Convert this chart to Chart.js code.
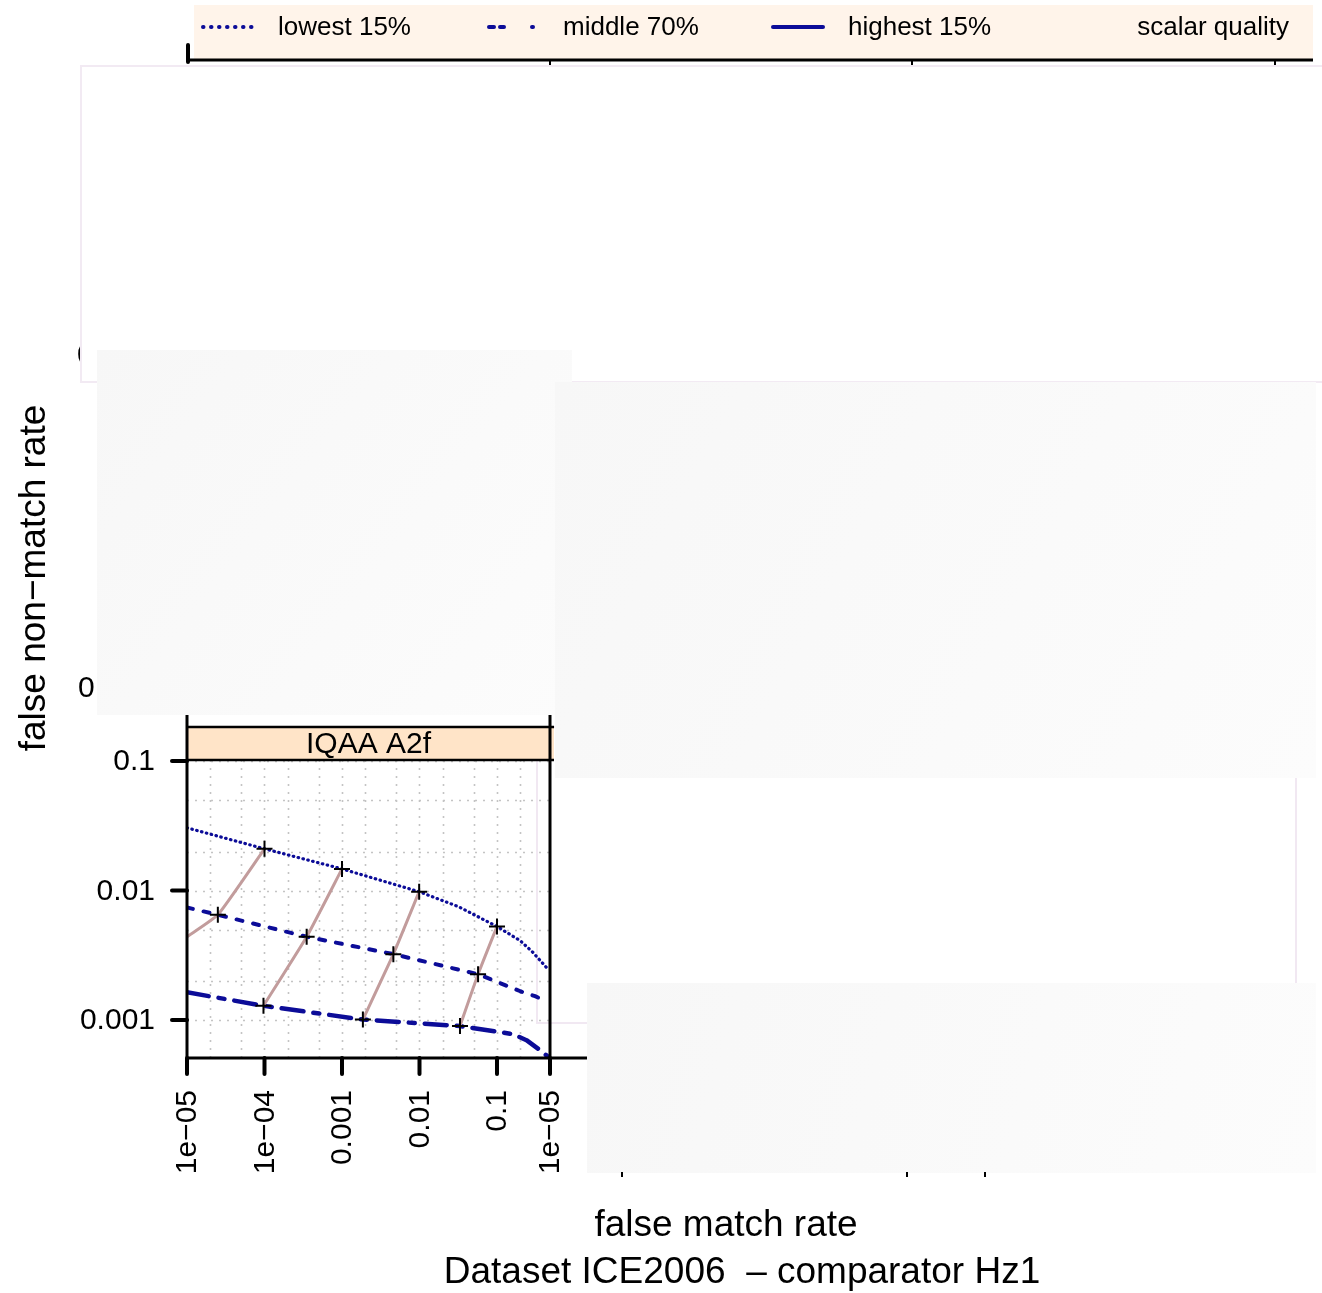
<!DOCTYPE html>
<html>
<head>
<meta charset="utf-8">
<title>IQAA A2f — ICE2006 / Hz1</title>
<script src="https://cdn.jsdelivr.net/npm/chart.js@4/dist/chart.umd.min.js"></script>
<style>
  html, body { margin: 0; padding: 0; background: #ffffff; }
  #wrap { position: relative; width: 1322px; height: 1293px; overflow: hidden; }
  canvas { position: absolute; left: 0; top: 0; }
</style>
</head>
<body>
<div id="wrap"><canvas id="c" width="1322" height="1293"></canvas></div>
<script>
// ---- axis ranges (false match rate / false non-match rate, log scales) ----
const X_MIN = 1e-5;
const X_MAX = 0.483;
const Y_MIN = 0.00051;
const Y_MAX = 0.1018;

// ---- DET curves per quality group ----
const lowestFMR  = [1e-5, 1e-4, 1e-3, 0.0099, 0.032, 0.1, 0.2, 0.29, 0.46];
const lowestFNMR = [0.0305, 0.021, 0.0147, 0.0098, 0.0075, 0.00528, 0.0041, 0.00334, 0.00245];

const middleFMR  = [1e-5, 2.5e-5, 3.5e-4, 4.6e-3, 0.057, 0.2, 0.31, 0.45];
const middleFNMR = [0.0074, 0.0065, 0.0044, 0.00323, 0.00226, 0.00167, 0.00153, 0.00138];

const highestFMR  = [1e-5, 9.7e-5, 1.86e-3, 0.0333, 0.16, 0.24, 0.34, 0.46];
const highestFNMR = [0.00164, 0.00129, 0.00101, 0.0009, 0.00078, 0.0007, 0.0006, 0.00052];

// ---- common-threshold connectors (highest -> middle -> lowest) ----
const thrAFMR  = [1e-5, 2.5e-5, 1e-4];
const thrAFNMR = [0.0044, 0.0065, 0.021];
const thrBFMR  = [9.7e-5, 3.5e-4, 1e-3];
const thrBFNMR = [0.00129, 0.0044, 0.0147];
const thrCFMR  = [1.86e-3, 4.6e-3, 0.0099];
const thrCFNMR = [0.00101, 0.00323, 0.0098];
const thrDFMR  = [0.0333, 0.057, 0.1];
const thrDFNMR = [0.0009, 0.00226, 0.00528];

// ---- tick labels ----
const xTickValues = [1e-5, 1e-4, 1e-3, 1e-2, 1e-1];
const xTickLabels = ['1e\u221205', '1e\u221204', '0.001', '0.01', '0.1'];
const xNextPanelLabel = '1e\u221205';
const yTickValues = [0.1, 0.01, 0.001];
const yTickLabels = ['0.1', '0.01', '0.001'];
const gridMultipliers = [1, 2, 5];

// ---- texts ----
const panelTitle = 'IQAA A2f';
const legendLabels = ['lowest 15%', 'middle 70%', 'highest 15%'];
const legendTitle = 'scalar quality';
const xTitle = 'false match rate';
const yTitle = 'false non\u2212match rate';
const mainTitle = 'Dataset ICE2006  \u2013 comparator Hz1';

const BLUE = '#0c0c98';
const ROSY = '#c29c9c';
const FONT = '"Liberation Sans", Arial, Helvetica, sans-serif';

const DASH_LOW = [0.5, 4.5];
const DASH_MID = [6, 11];
const DASH_HIGH = [22, 10, 6, 10];

function pts(xs, ys) { return xs.map((x, i) => ({ x: x, y: ys[i] })); }

function connector(xs, ys, firstHasMark) {
  return {
    data: pts(xs, ys),
    showLine: true,
    borderColor: ROSY,
    borderWidth: 3,
    pointStyle: 'cross',
    pointRadius: xs.map((_, i) => (i === 0 && !firstHasMark) ? 0 : 8),
    pointBorderColor: '#000000',
    pointBorderWidth: 2,
    pointBackgroundColor: '#000000',
    clip: 0,
    tension: 0.15
  };
}

function curve(xs, ys, dash, width) {
  return {
    data: pts(xs, ys),
    showLine: true,
    borderColor: BLUE,
    borderWidth: width,
    borderDash: dash,
    borderCapStyle: 'round',
    borderJoinStyle: 'round',
    pointRadius: 0,
    clip: 0,
    tension: 0
  };
}

function logGrid(min, max) {
  const out = [];
  for (let e = -7; e <= 1; e++) {
    for (const m of gridMultipliers) {
      const v = m * Math.pow(10, e);
      if (v > min * 1.0001 && v < max * 0.9999) out.push(v);
    }
  }
  return out;
}

// dotted reference grid, plus the faint frame that sits behind the curves
const gridPlugin = {
  id: 'dotGrid',
  beforeDatasetsDraw(chart) {
    const { ctx, chartArea: a, scales: { x, y } } = chart;
    ctx.save();
    ctx.strokeStyle = '#c4c4c4';
    ctx.lineWidth = 1.6;
    ctx.setLineDash([2, 6]);
    for (const v of logGrid(X_MIN, X_MAX)) {
      const px = Math.round(x.getPixelForValue(v)) + 0.5;
      ctx.beginPath(); ctx.moveTo(px, a.top); ctx.lineTo(px, a.bottom); ctx.stroke();
    }
    for (const v of logGrid(Y_MIN, Y_MAX)) {
      const py = Math.round(y.getPixelForValue(v)) + 0.5;
      ctx.beginPath(); ctx.moveTo(a.left, py); ctx.lineTo(a.right, py); ctx.stroke();
    }
    ctx.setLineDash([]);
    ctx.strokeStyle = '#f1e8f2';
    ctx.lineWidth = 2;
    ctx.strokeRect(537, 727, 759, 296);
    ctx.restore();
  }
};

function line(ctx, x1, y1, x2, y2) {
  ctx.beginPath(); ctx.moveTo(x1, y1); ctx.lineTo(x2, y2); ctx.stroke();
}

function panelFill(ctx, x, y, w, h) {
  const g = ctx.createLinearGradient(x, y, x + w, y + h);
  g.addColorStop(0, '#f7f7f7');
  g.addColorStop(1, '#fcfcfc');
  ctx.fillStyle = g;
  ctx.fillRect(x, y, w, h);
}

// frame, strip, axes, labels, legend and titles
const decorPlugin = {
  id: 'latticeDecor',
  afterDraw(chart) {
    const { ctx, chartArea: a, scales: { x, y } } = chart;
    ctx.save();
    ctx.setLineDash([]);
    ctx.strokeStyle = '#000000';
    ctx.fillStyle = '#000000';

    // panel strip
    ctx.fillStyle = '#ffe4c8';
    ctx.fillRect(a.left, 727, a.right - a.left + 4, a.top - 727);
    ctx.lineWidth = 2.5;
    line(ctx, a.left, 727, a.right + 4, 727);
    line(ctx, a.left, a.top, a.right + 4, a.top);
    ctx.fillStyle = '#000000';
    ctx.font = '30px ' + FONT;
    ctx.textAlign = 'center';
    ctx.textBaseline = 'middle';
    ctx.fillText(panelTitle, (a.left + a.right) / 2, (727 + a.top) / 2 + 1);

    // panel borders
    ctx.lineWidth = 3;
    line(ctx, a.left, 713, a.left, a.bottom);
    line(ctx, a.right, 713, a.right, a.bottom);
    line(ctx, a.left, a.bottom, 587, a.bottom);

    // y ticks + labels
    ctx.lineCap = 'round';
    ctx.lineWidth = 4;
    ctx.font = '30px ' + FONT;
    ctx.textAlign = 'right';
    ctx.textBaseline = 'middle';
    yTickValues.forEach((v, i) => {
      const py = y.getPixelForValue(v);
      line(ctx, a.left - 15, py, a.left, py);
      ctx.fillText(yTickLabels[i], 155, py + 1);
    });

    // x ticks + rotated labels
    const xTicks = xTickValues.map((v, i) => ({ px: x.getPixelForValue(v), label: xTickLabels[i] }));
    xTicks.push({ px: a.right, label: xNextPanelLabel });
    xTicks.forEach(t => {
      line(ctx, t.px, a.bottom, t.px, a.bottom + 16);
      ctx.save();
      ctx.translate(t.px, 1090);
      ctx.rotate(-Math.PI / 2);
      ctx.textAlign = 'right';
      ctx.textBaseline = 'middle';
      ctx.fillText(t.label, 0, 1);
      ctx.restore();
    });
    ctx.lineCap = 'butt';

    // surrounding panels (empty, faded)
    ctx.strokeStyle = '#f2eaf3';
    ctx.lineWidth = 2;
    ctx.strokeRect(81, 66, 1250, 316);
    ctx.strokeStyle = '#f1e8f2';
    line(ctx, 1296, 778, 1296, 984);

    ctx.fillStyle = '#000000';
    ctx.font = '30px ' + FONT;
    ctx.textAlign = 'left';
    ctx.textBaseline = 'middle';
    ctx.fillText('0', 78, 689);
    ctx.save();
    ctx.beginPath(); ctx.rect(70, 330, 10, 50); ctx.clip();
    ctx.fillText('0', 77, 356);
    ctx.restore();

    panelFill(ctx, 97, 350, 475, 365);
    panelFill(ctx, 555, 382, 761, 396);
    panelFill(ctx, 587, 983, 729, 190);

    // stray ticks of neighbouring axes
    ctx.strokeStyle = '#000000';
    ctx.lineWidth = 2;
    [622, 907, 985].forEach(px => line(ctx, px, 1172, px, 1177));

    // top key
    ctx.fillStyle = '#fff4ea';
    ctx.fillRect(194, 5, 1119, 54);
    ctx.strokeStyle = '#000000';
    ctx.lineWidth = 3;
    line(ctx, 187, 60, 1313, 60);
    ctx.lineWidth = 4;
    ctx.lineCap = 'round';
    line(ctx, 188, 45, 188, 62);
    ctx.lineCap = 'butt';
    ctx.lineWidth = 2;
    [550, 912, 1275].forEach(px => line(ctx, px, 60, px, 65));

    const keyY = 27;
    ctx.strokeStyle = BLUE;
    ctx.lineCap = 'round';
    ctx.lineWidth = 4;
    ctx.setLineDash([0.5, 7.5]);
    line(ctx, 203, keyY, 255, keyY);
    ctx.setLineDash([5, 6, 4, 28, 1, 30]);
    line(ctx, 489, keyY, 540, keyY);
    ctx.setLineDash([]);
    line(ctx, 773, keyY, 823, keyY);
    ctx.lineCap = 'butt';

    ctx.fillStyle = '#000000';
    ctx.font = '26px ' + FONT;
    ctx.textAlign = 'left';
    ctx.textBaseline = 'middle';
    ctx.fillText(legendLabels[0], 278, keyY + 1);
    ctx.fillText(legendLabels[1], 563, keyY + 1);
    ctx.fillText(legendLabels[2], 848, keyY + 1);
    ctx.textAlign = 'right';
    ctx.fillText(legendTitle, 1289, keyY + 1);

    // axis titles
    ctx.font = '37px ' + FONT;
    ctx.textAlign = 'center';
    ctx.fillText(xTitle, 726, 1226);
    ctx.fillText(mainTitle, 742, 1273);
    ctx.save();
    ctx.translate(35, 578);
    ctx.rotate(-Math.PI / 2);
    ctx.fillText(yTitle, 0, 0);
    ctx.restore();

    ctx.restore();
  }
};

new Chart(document.getElementById('c'), {
  type: 'scatter',
  data: {
    datasets: [
      connector(thrAFMR, thrAFNMR, false),
      connector(thrBFMR, thrBFNMR, true),
      connector(thrCFMR, thrCFNMR, true),
      connector(thrDFMR, thrDFNMR, true),
      curve(lowestFMR, lowestFNMR, DASH_LOW, 3.2),
      curve(middleFMR, middleFNMR, DASH_MID, 4),
      curve(highestFMR, highestFNMR, DASH_HIGH, 4.5)
    ]
  },
  options: {
    responsive: false,
    animation: false,
    devicePixelRatio: 1,
    layout: { padding: { left: 187, top: 760, right: 772, bottom: 235 } },
    scales: {
      x: { type: 'logarithmic', min: X_MIN, max: X_MAX, bounds: 'data', display: false },
      y: { type: 'logarithmic', min: Y_MIN, max: Y_MAX, bounds: 'data', display: false }
    },
    plugins: { legend: { display: false }, tooltip: { enabled: false } }
  },
  plugins: [gridPlugin, decorPlugin]
});
</script>
</body>
</html>
